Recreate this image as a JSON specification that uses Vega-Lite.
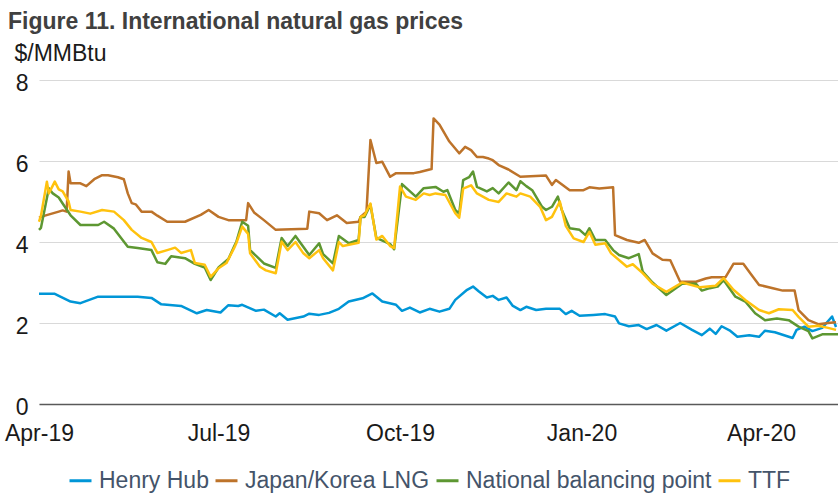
{
  "$schema": "https://vega.github.io/schema/vega-lite/v6.json",
  "width": 799,
  "height": 324,
  "autosize": {"type": "none"},
  "padding": {"left": 39, "top": 80, "right": 0, "bottom": 89},
  "background": "white",
  "config": {"view": {"stroke": null}, "font": "Liberation Sans"},
  "title": {
    "text": "Figure 11. International natural gas prices",
    "anchor": "start",
    "frame": "group",
    "dx": -31,
    "offset": 8,
    "fontSize": 23,
    "font": "Liberation Sans",
    "fontWeight": "bold",
    "color": "#404040"
  },
  "datasets": {
    "hh": [
      {"date": "2019-04-01", "price": 2.72}, {"date": "2019-04-09", "price": 2.72}, {"date": "2019-04-17", "price": 2.53}, {"date": "2019-04-22", "price": 2.49},
      {"date": "2019-05-01", "price": 2.65}, {"date": "2019-05-13", "price": 2.65}, {"date": "2019-05-21", "price": 2.65}, {"date": "2019-05-28", "price": 2.62},
      {"date": "2019-06-02", "price": 2.46}, {"date": "2019-06-12", "price": 2.42}, {"date": "2019-06-20", "price": 2.24}, {"date": "2019-06-25", "price": 2.32},
      {"date": "2019-07-02", "price": 2.26}, {"date": "2019-07-06", "price": 2.44}, {"date": "2019-07-11", "price": 2.42}, {"date": "2019-07-13", "price": 2.45},
      {"date": "2019-07-20", "price": 2.30}, {"date": "2019-07-24", "price": 2.33}, {"date": "2019-07-30", "price": 2.16}, {"date": "2019-08-01", "price": 2.24},
      {"date": "2019-08-05", "price": 2.08}, {"date": "2019-08-13", "price": 2.16}, {"date": "2019-08-16", "price": 2.23}, {"date": "2019-08-21", "price": 2.20},
      {"date": "2019-08-26", "price": 2.25}, {"date": "2019-08-31", "price": 2.35}, {"date": "2019-09-05", "price": 2.53}, {"date": "2019-09-12", "price": 2.61},
      {"date": "2019-09-17", "price": 2.73}, {"date": "2019-09-22", "price": 2.53}, {"date": "2019-09-29", "price": 2.45}, {"date": "2019-10-02", "price": 2.30},
      {"date": "2019-10-06", "price": 2.38}, {"date": "2019-10-11", "price": 2.26}, {"date": "2019-10-16", "price": 2.35}, {"date": "2019-10-21", "price": 2.28},
      {"date": "2019-10-26", "price": 2.35}, {"date": "2019-10-29", "price": 2.57}, {"date": "2019-11-04", "price": 2.82}, {"date": "2019-11-07", "price": 2.90},
      {"date": "2019-11-10", "price": 2.78}, {"date": "2019-11-14", "price": 2.63}, {"date": "2019-11-17", "price": 2.67}, {"date": "2019-11-20", "price": 2.57},
      {"date": "2019-11-24", "price": 2.63}, {"date": "2019-11-27", "price": 2.43}, {"date": "2019-12-01", "price": 2.32}, {"date": "2019-12-04", "price": 2.40},
      {"date": "2019-12-09", "price": 2.32}, {"date": "2019-12-14", "price": 2.35}, {"date": "2019-12-21", "price": 2.35}, {"date": "2019-12-24", "price": 2.22},
      {"date": "2019-12-27", "price": 2.30}, {"date": "2019-12-31", "price": 2.18}, {"date": "2020-01-07", "price": 2.20}, {"date": "2020-01-13", "price": 2.22},
      {"date": "2020-01-18", "price": 2.16}, {"date": "2020-01-20", "price": 1.99}, {"date": "2020-01-25", "price": 1.92}, {"date": "2020-01-30", "price": 1.95},
      {"date": "2020-02-03", "price": 1.85}, {"date": "2020-02-08", "price": 1.95}, {"date": "2020-02-13", "price": 1.81}, {"date": "2020-02-20", "price": 2.00},
      {"date": "2020-02-26", "price": 1.83}, {"date": "2020-03-02", "price": 1.70}, {"date": "2020-03-06", "price": 1.86}, {"date": "2020-03-09", "price": 1.73},
      {"date": "2020-03-12", "price": 1.92}, {"date": "2020-03-16", "price": 1.82}, {"date": "2020-03-20", "price": 1.66}, {"date": "2020-03-26", "price": 1.70},
      {"date": "2020-03-31", "price": 1.66}, {"date": "2020-04-03", "price": 1.81}, {"date": "2020-04-08", "price": 1.77}, {"date": "2020-04-17", "price": 1.63},
      {"date": "2020-04-19", "price": 1.83}, {"date": "2020-04-23", "price": 1.91}, {"date": "2020-04-27", "price": 1.80}, {"date": "2020-05-02", "price": 1.88},
      {"date": "2020-05-07", "price": 2.16}, {"date": "2020-05-09", "price": 1.90}
    ],
    "jkm": [
      {"date": "2019-04-01", "price": 4.60}, {"date": "2019-04-04", "price": 4.65}, {"date": "2019-04-11", "price": 4.75}, {"date": "2019-04-13", "price": 4.78},
      {"date": "2019-04-15", "price": 4.75}, {"date": "2019-04-16", "price": 5.74}, {"date": "2019-04-17", "price": 5.45}, {"date": "2019-04-22", "price": 5.45},
      {"date": "2019-04-25", "price": 5.38}, {"date": "2019-04-29", "price": 5.55}, {"date": "2019-05-03", "price": 5.65}, {"date": "2019-05-06", "price": 5.65},
      {"date": "2019-05-11", "price": 5.60}, {"date": "2019-05-14", "price": 5.55}, {"date": "2019-05-16", "price": 5.20}, {"date": "2019-05-18", "price": 4.96},
      {"date": "2019-05-20", "price": 4.93}, {"date": "2019-05-23", "price": 4.75}, {"date": "2019-05-28", "price": 4.75}, {"date": "2019-05-31", "price": 4.65},
      {"date": "2019-06-05", "price": 4.50}, {"date": "2019-06-14", "price": 4.50}, {"date": "2019-06-22", "price": 4.67}, {"date": "2019-06-26", "price": 4.79},
      {"date": "2019-07-01", "price": 4.62}, {"date": "2019-07-06", "price": 4.54}, {"date": "2019-07-15", "price": 4.54}, {"date": "2019-07-16", "price": 4.96},
      {"date": "2019-07-19", "price": 4.73}, {"date": "2019-07-24", "price": 4.54}, {"date": "2019-07-30", "price": 4.30}, {"date": "2019-08-15", "price": 4.33},
      {"date": "2019-08-16", "price": 4.75}, {"date": "2019-08-21", "price": 4.71}, {"date": "2019-08-25", "price": 4.54}, {"date": "2019-08-30", "price": 4.66},
      {"date": "2019-09-04", "price": 4.47}, {"date": "2019-09-10", "price": 4.50}, {"date": "2019-09-11", "price": 4.62}, {"date": "2019-09-14", "price": 4.75},
      {"date": "2019-09-16", "price": 6.52}, {"date": "2019-09-19", "price": 5.95}, {"date": "2019-09-22", "price": 5.98}, {"date": "2019-09-26", "price": 5.61},
      {"date": "2019-09-29", "price": 5.70}, {"date": "2019-10-08", "price": 5.70}, {"date": "2019-10-11", "price": 5.73}, {"date": "2019-10-16", "price": 5.79},
      {"date": "2019-10-17", "price": 5.80}, {"date": "2019-10-18", "price": 7.05}, {"date": "2019-10-21", "price": 6.90}, {"date": "2019-10-26", "price": 6.48},
      {"date": "2019-10-31", "price": 6.19}, {"date": "2019-11-03", "price": 6.35}, {"date": "2019-11-06", "price": 6.27}, {"date": "2019-11-09", "price": 6.10},
      {"date": "2019-11-12", "price": 6.10}, {"date": "2019-11-15", "price": 6.06}, {"date": "2019-11-17", "price": 6.02}, {"date": "2019-11-20", "price": 5.90},
      {"date": "2019-11-25", "price": 5.79}, {"date": "2019-12-01", "price": 5.61}, {"date": "2019-12-14", "price": 5.64}, {"date": "2019-12-17", "price": 5.41},
      {"date": "2019-12-19", "price": 5.53}, {"date": "2019-12-26", "price": 5.28}, {"date": "2020-01-02", "price": 5.28}, {"date": "2020-01-05", "price": 5.35},
      {"date": "2020-01-10", "price": 5.32}, {"date": "2020-01-17", "price": 5.35}, {"date": "2020-01-18", "price": 4.17}, {"date": "2020-01-24", "price": 4.05},
      {"date": "2020-01-30", "price": 3.98}, {"date": "2020-02-02", "price": 4.05}, {"date": "2020-02-06", "price": 3.72}, {"date": "2020-02-11", "price": 3.56},
      {"date": "2020-02-15", "price": 3.55}, {"date": "2020-02-20", "price": 3.02}, {"date": "2020-02-28", "price": 3.02}, {"date": "2020-03-04", "price": 3.10},
      {"date": "2020-03-07", "price": 3.13}, {"date": "2020-03-14", "price": 3.13}, {"date": "2020-03-18", "price": 3.46}, {"date": "2020-03-23", "price": 3.46},
      {"date": "2020-03-27", "price": 3.20}, {"date": "2020-03-31", "price": 2.94}, {"date": "2020-04-07", "price": 2.86}, {"date": "2020-04-12", "price": 2.80},
      {"date": "2020-04-18", "price": 2.80}, {"date": "2020-04-20", "price": 2.32}, {"date": "2020-04-25", "price": 2.07}, {"date": "2020-04-30", "price": 1.97},
      {"date": "2020-05-05", "price": 2.00}, {"date": "2020-05-09", "price": 2.02}
    ],
    "nbp": [
      {"date": "2019-04-01", "price": 4.30}, {"date": "2019-04-02", "price": 4.35}, {"date": "2019-04-06", "price": 5.33}, {"date": "2019-04-08", "price": 5.20},
      {"date": "2019-04-11", "price": 5.10}, {"date": "2019-04-13", "price": 4.95}, {"date": "2019-04-17", "price": 4.66}, {"date": "2019-04-22", "price": 4.42},
      {"date": "2019-05-01", "price": 4.42}, {"date": "2019-05-04", "price": 4.50}, {"date": "2019-05-09", "price": 4.33}, {"date": "2019-05-16", "price": 3.88},
      {"date": "2019-05-21", "price": 3.85}, {"date": "2019-05-28", "price": 3.80}, {"date": "2019-05-31", "price": 3.50}, {"date": "2019-06-04", "price": 3.46},
      {"date": "2019-06-07", "price": 3.65}, {"date": "2019-06-14", "price": 3.60}, {"date": "2019-06-19", "price": 3.46}, {"date": "2019-06-24", "price": 3.37},
      {"date": "2019-06-27", "price": 3.06}, {"date": "2019-07-01", "price": 3.37}, {"date": "2019-07-06", "price": 3.58}, {"date": "2019-07-09", "price": 3.90},
      {"date": "2019-07-10", "price": 4.00}, {"date": "2019-07-13", "price": 4.50}, {"date": "2019-07-16", "price": 4.40}, {"date": "2019-07-17", "price": 3.80},
      {"date": "2019-07-24", "price": 3.47}, {"date": "2019-07-30", "price": 3.36}, {"date": "2019-08-02", "price": 4.10}, {"date": "2019-08-05", "price": 3.90},
      {"date": "2019-08-09", "price": 4.15}, {"date": "2019-08-16", "price": 3.68}, {"date": "2019-08-21", "price": 3.97}, {"date": "2019-08-23", "price": 3.70},
      {"date": "2019-08-28", "price": 3.47}, {"date": "2019-08-31", "price": 4.15}, {"date": "2019-09-05", "price": 3.97}, {"date": "2019-09-10", "price": 4.05},
      {"date": "2019-09-11", "price": 4.62}, {"date": "2019-09-13", "price": 4.62}, {"date": "2019-09-16", "price": 4.92}, {"date": "2019-09-19", "price": 4.10},
      {"date": "2019-09-26", "price": 3.95}, {"date": "2019-09-28", "price": 3.82}, {"date": "2019-10-02", "price": 5.43}, {"date": "2019-10-09", "price": 5.12},
      {"date": "2019-10-13", "price": 5.33}, {"date": "2019-10-19", "price": 5.36}, {"date": "2019-10-23", "price": 5.24}, {"date": "2019-10-25", "price": 5.28},
      {"date": "2019-10-29", "price": 4.79}, {"date": "2019-10-31", "price": 4.70}, {"date": "2019-11-02", "price": 5.53}, {"date": "2019-11-05", "price": 5.60},
      {"date": "2019-11-07", "price": 5.74}, {"date": "2019-11-09", "price": 5.36}, {"date": "2019-11-14", "price": 5.25}, {"date": "2019-11-17", "price": 5.33},
      {"date": "2019-11-20", "price": 5.20}, {"date": "2019-11-25", "price": 5.47}, {"date": "2019-11-29", "price": 5.28}, {"date": "2019-12-01", "price": 5.50},
      {"date": "2019-12-04", "price": 5.38}, {"date": "2019-12-07", "price": 5.28}, {"date": "2019-12-12", "price": 4.87}, {"date": "2019-12-14", "price": 4.79},
      {"date": "2019-12-17", "price": 4.87}, {"date": "2019-12-20", "price": 5.12}, {"date": "2019-12-22", "price": 4.79}, {"date": "2019-12-26", "price": 4.34},
      {"date": "2019-12-31", "price": 4.30}, {"date": "2020-01-03", "price": 4.17}, {"date": "2020-01-05", "price": 4.34}, {"date": "2020-01-08", "price": 4.05},
      {"date": "2020-01-13", "price": 4.05}, {"date": "2020-01-17", "price": 3.80}, {"date": "2020-01-20", "price": 3.68}, {"date": "2020-01-25", "price": 3.60},
      {"date": "2020-01-30", "price": 3.70}, {"date": "2020-02-01", "price": 3.27}, {"date": "2020-02-06", "price": 3.00}, {"date": "2020-02-13", "price": 2.69},
      {"date": "2020-02-21", "price": 2.97}, {"date": "2020-02-28", "price": 2.97}, {"date": "2020-03-02", "price": 2.80}, {"date": "2020-03-06", "price": 2.86},
      {"date": "2020-03-10", "price": 2.90}, {"date": "2020-03-13", "price": 3.06}, {"date": "2020-03-19", "price": 2.65}, {"date": "2020-03-24", "price": 2.53},
      {"date": "2020-03-29", "price": 2.24}, {"date": "2020-04-03", "price": 2.07}, {"date": "2020-04-09", "price": 2.11}, {"date": "2020-04-15", "price": 2.07},
      {"date": "2020-04-20", "price": 1.91}, {"date": "2020-04-25", "price": 1.80}, {"date": "2020-04-27", "price": 1.62}, {"date": "2020-05-02", "price": 1.72},
      {"date": "2020-05-07", "price": 1.72}, {"date": "2020-05-10", "price": 1.72}
    ],
    "ttf": [
      {"date": "2019-04-01", "price": 4.50}, {"date": "2019-04-02", "price": 4.65}, {"date": "2019-04-05", "price": 5.49}, {"date": "2019-04-06", "price": 5.20},
      {"date": "2019-04-09", "price": 5.49}, {"date": "2019-04-11", "price": 5.30}, {"date": "2019-04-13", "price": 5.25}, {"date": "2019-04-16", "price": 5.00},
      {"date": "2019-04-17", "price": 4.79}, {"date": "2019-04-22", "price": 4.75}, {"date": "2019-04-27", "price": 4.70}, {"date": "2019-05-03", "price": 4.79},
      {"date": "2019-05-09", "price": 4.75}, {"date": "2019-05-14", "price": 4.54}, {"date": "2019-05-18", "price": 4.30}, {"date": "2019-05-23", "price": 4.10},
      {"date": "2019-05-28", "price": 4.00}, {"date": "2019-05-31", "price": 3.73}, {"date": "2019-06-05", "price": 3.80}, {"date": "2019-06-09", "price": 3.86},
      {"date": "2019-06-12", "price": 3.73}, {"date": "2019-06-17", "price": 3.80}, {"date": "2019-06-19", "price": 3.48}, {"date": "2019-06-24", "price": 3.44},
      {"date": "2019-06-27", "price": 3.14}, {"date": "2019-07-01", "price": 3.35}, {"date": "2019-07-05", "price": 3.48}, {"date": "2019-07-09", "price": 3.86},
      {"date": "2019-07-10", "price": 3.97}, {"date": "2019-07-13", "price": 4.38}, {"date": "2019-07-16", "price": 4.20}, {"date": "2019-07-17", "price": 3.72},
      {"date": "2019-07-22", "price": 3.39}, {"date": "2019-07-25", "price": 3.30}, {"date": "2019-07-30", "price": 3.23}, {"date": "2019-08-02", "price": 4.01},
      {"date": "2019-08-05", "price": 3.80}, {"date": "2019-08-09", "price": 4.00}, {"date": "2019-08-13", "price": 3.72}, {"date": "2019-08-16", "price": 3.60},
      {"date": "2019-08-21", "price": 3.80}, {"date": "2019-08-23", "price": 3.60}, {"date": "2019-08-28", "price": 3.30}, {"date": "2019-08-31", "price": 4.00},
      {"date": "2019-09-02", "price": 3.90}, {"date": "2019-09-10", "price": 3.98}, {"date": "2019-09-11", "price": 4.62}, {"date": "2019-09-13", "price": 4.66},
      {"date": "2019-09-16", "price": 4.95}, {"date": "2019-09-19", "price": 4.06}, {"date": "2019-09-22", "price": 4.15}, {"date": "2019-09-26", "price": 3.90},
      {"date": "2019-09-28", "price": 3.85}, {"date": "2019-10-01", "price": 5.37}, {"date": "2019-10-04", "price": 5.12}, {"date": "2019-10-09", "price": 5.04},
      {"date": "2019-10-13", "price": 5.20}, {"date": "2019-10-16", "price": 5.16}, {"date": "2019-10-19", "price": 5.20}, {"date": "2019-10-24", "price": 5.16},
      {"date": "2019-10-29", "price": 4.71}, {"date": "2019-10-31", "price": 4.60}, {"date": "2019-11-02", "price": 5.32}, {"date": "2019-11-06", "price": 5.40},
      {"date": "2019-11-09", "price": 5.20}, {"date": "2019-11-15", "price": 5.04}, {"date": "2019-11-20", "price": 4.99}, {"date": "2019-11-24", "price": 5.20},
      {"date": "2019-11-29", "price": 5.12}, {"date": "2019-12-01", "price": 5.20}, {"date": "2019-12-06", "price": 5.12}, {"date": "2019-12-11", "price": 4.87},
      {"date": "2019-12-14", "price": 4.54}, {"date": "2019-12-17", "price": 4.62}, {"date": "2019-12-21", "price": 5.00}, {"date": "2019-12-24", "price": 4.40},
      {"date": "2019-12-28", "price": 4.09}, {"date": "2020-01-02", "price": 4.00}, {"date": "2020-01-05", "price": 4.25}, {"date": "2020-01-08", "price": 3.93},
      {"date": "2020-01-13", "price": 3.97}, {"date": "2020-01-16", "price": 3.72}, {"date": "2020-01-24", "price": 3.39}, {"date": "2020-01-27", "price": 3.45},
      {"date": "2020-02-01", "price": 3.23}, {"date": "2020-02-06", "price": 2.97}, {"date": "2020-02-13", "price": 2.77}, {"date": "2020-02-21", "price": 3.00},
      {"date": "2020-03-01", "price": 2.88}, {"date": "2020-03-09", "price": 2.92}, {"date": "2020-03-13", "price": 3.11}, {"date": "2020-03-18", "price": 2.82},
      {"date": "2020-03-24", "price": 2.57}, {"date": "2020-03-31", "price": 2.32}, {"date": "2020-04-05", "price": 2.24}, {"date": "2020-04-10", "price": 2.34},
      {"date": "2020-04-17", "price": 2.32}, {"date": "2020-04-20", "price": 2.15}, {"date": "2020-04-25", "price": 1.91}, {"date": "2020-04-30", "price": 1.93},
      {"date": "2020-05-05", "price": 1.88}, {"date": "2020-05-09", "price": 1.83}
    ]
  },
  "layer": [
    {
      "data": {"name": "hh"},
      "mark": {"type": "line", "strokeWidth": 2.5, "strokeJoin": "round"},
      "encoding": {
        "x": {"field": "date", "type": "temporal"},
        "y": {"field": "price", "type": "quantitative"},
        "color": {"datum": "Henry Hub"}
      }
    },
    {
      "data": {"name": "jkm"},
      "mark": {"type": "line", "strokeWidth": 2.5, "strokeJoin": "round"},
      "encoding": {
        "x": {"field": "date", "type": "temporal"},
        "y": {"field": "price", "type": "quantitative"},
        "color": {"datum": "Japan/Korea LNG"}
      }
    },
    {
      "data": {"name": "nbp"},
      "mark": {"type": "line", "strokeWidth": 2.5, "strokeJoin": "round"},
      "encoding": {
        "x": {"field": "date", "type": "temporal"},
        "y": {"field": "price", "type": "quantitative"},
        "color": {"datum": "National balancing point"}
      }
    },
    {
      "data": {"name": "ttf"},
      "mark": {"type": "line", "strokeWidth": 2.5, "strokeJoin": "round"},
      "encoding": {
        "x": {"field": "date", "type": "temporal"},
        "y": {"field": "price", "type": "quantitative"},
        "color": {"datum": "TTF"}
      }
    }
  ],
  "resolve": {"scale": {"x": "shared", "y": "shared", "color": "shared"}},
  "encoding": {
    "x": {
      "field": "date",
      "type": "temporal",
      "scale": {
        "type": "utc",
        "domain": [
          {"year": 2019, "month": 4, "date": 1, "utc": true},
          {"year": 2020, "month": 5, "date": 10, "utc": true}
        ]
      },
      "axis": {
        "title": null,
        "values": [
          {"year": 2019, "month": 4, "date": 1, "utc": true},
          {"year": 2019, "month": 7, "date": 1, "utc": true},
          {"year": 2019, "month": 10, "date": 1, "utc": true},
          {"year": 2020, "month": 1, "date": 1, "utc": true},
          {"year": 2020, "month": 4, "date": 1, "utc": true}
        ],
        "format": "%b-%y",
        "grid": false,
        "ticks": false,
        "tickSize": 0,
        "labelFlush": false,
        "labelOverlap": false,
        "labelPadding": 36,
        "labelBaseline": "alphabetic",
        "labelFontSize": 23,
        "labelColor": "#1a1a1a",
        "domainColor": "#595959",
        "domainWidth": 1.5
      }
    },
    "y": {
      "field": "price",
      "type": "quantitative",
      "scale": {"domain": [0, 8], "nice": false, "zero": true},
      "axis": {
        "title": "$/MMBtu",
        "titleAngle": 0,
        "titleAlign": "left",
        "titleBaseline": "alphabetic",
        "titleX": -25,
        "titleY": -20,
        "titleFontSize": 23,
        "titleFontWeight": "normal",
        "titleColor": "#1a1a1a",
        "values": [0, 2, 4, 6, 8],
        "grid": true,
        "gridColor": "#d9d9d9",
        "gridWidth": 1.2,
        "domain": false,
        "ticks": false,
        "tickSize": 0,
        "labelPadding": 11,
        "labelOffset": 3,
        "labelFontSize": 23,
        "labelColor": "#1a1a1a"
      }
    },
    "color": {
      "type": "nominal",
      "scale": {
        "domain": ["Henry Hub", "Japan/Korea LNG", "National balancing point", "TTF"],
        "range": ["#0096d7", "#bd732a", "#5d9732", "#ffc20e"]
      },
      "legend": {
        "title": null,
        "orient": "none",
        "direction": "horizontal",
        "legendX": 29,
        "legendY": 388,
        "padding": 0,
        "symbolType": "stroke",
        "symbolSize": 484,
        "symbolStrokeWidth": 3,
        "labelFontSize": 23,
        "labelColor": "#44546a",
        "labelOffset": 6,
        "columnPadding": 0,
        "labelLimit": 400
      }
    }
  }
}
